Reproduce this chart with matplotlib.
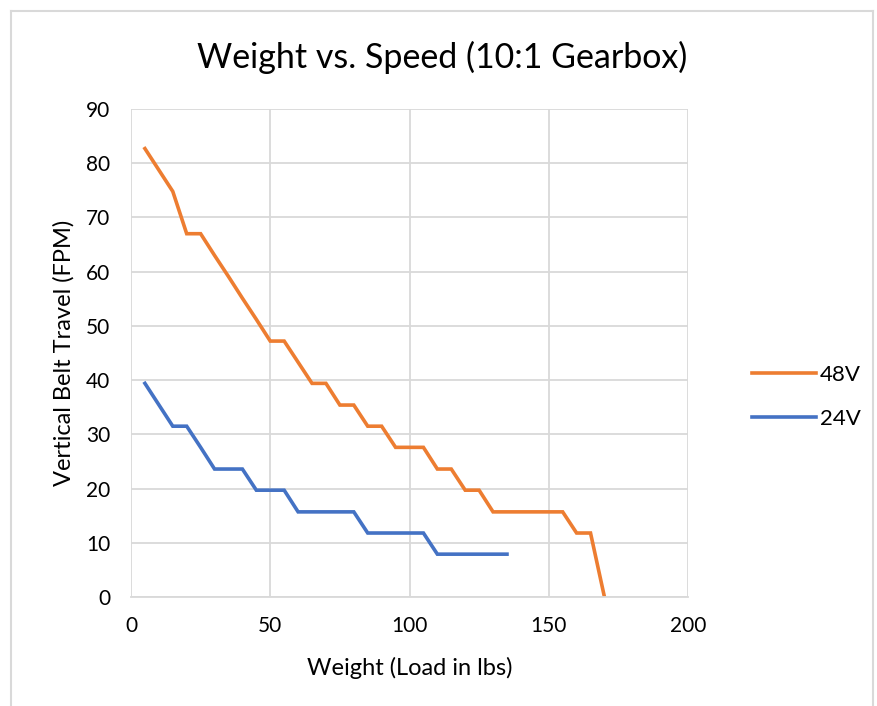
import matplotlib.pyplot as plt
from matplotlib.lines import Line2D

plt.rcParams['font.family'] = ['Lato', 'DejaVu Sans']

# 48V series (load in lbs, belt travel in FPM)
w48 = [5, 15, 20, 25, 30, 35, 40, 45, 50, 55, 60, 65, 70, 75, 80, 85, 90, 95, 100, 105,
       110, 115, 120, 125, 130, 135, 140, 145, 150, 155, 160, 165, 170]
v48 = [82.7, 74.8, 67.0, 67.0, 63.0, 59.1, 55.1, 51.2, 47.2, 47.2, 43.3, 39.4, 39.4, 35.4, 35.4,
       31.5, 31.5, 27.6, 27.6, 27.6, 23.6, 23.6, 19.7, 19.7, 15.7, 15.7, 15.7, 15.7, 15.7, 15.7,
       11.8, 11.8, 0.0]

# 24V series
w24 = [5, 15, 20, 25, 30, 35, 40, 45, 50, 55, 60, 65, 70, 75, 80, 85, 90, 95, 100, 105,
       110, 115, 120, 125, 130, 135]
v24 = [39.4, 31.5, 31.5, 27.6, 23.6, 23.6, 23.6, 19.7, 19.7, 19.7, 15.7, 15.7, 15.7, 15.7, 15.7,
       11.8, 11.8, 11.8, 11.8, 11.8, 7.9, 7.9, 7.9, 7.9, 7.9, 7.9]

fig = plt.figure(figsize=(8.77, 7.06), dpi=100)
ax = fig.add_axes([131 / 877, 109 / 706, 557 / 877, 488 / 706])

l48, = ax.plot(w48, v48, color='#ED7D31', lw=2.6, solid_joinstyle='miter', label='48V')
l24, = ax.plot(w24, v24, color='#4472C4', lw=2.6, solid_joinstyle='miter', label='24V')

ax.set_xlim(0, 200)
ax.set_ylim(0, 90)
ax.set_xticks(range(0, 201, 50))
ax.set_yticks(range(0, 91, 10))
ax.grid(True, color='#d9d9d9', lw=1.3)
ax.set_axisbelow(True)
for s in ['top', 'right', 'left']:
    ax.spines[s].set_visible(False)
ax.spines['bottom'].set_color('#d9d9d9')
ax.spines['bottom'].set_linewidth(1.3)
ax.tick_params(length=0, labelsize=15, colors='#000000')
ax.tick_params(axis='y', pad=15)
ax.tick_params(axis='x', pad=14)

ax.set_xlabel('Weight (Load in lbs)', fontsize=17, labelpad=15)
ax.set_ylabel('Vertical Belt Travel (FPM)', fontsize=17, labelpad=8)
fig.text(442 / 877, 1 - 57 / 706, 'Weight vs. Speed (10:1 Gearbox)', fontsize=24.5,
         ha='center', va='center')

ax.legend(handles=[l48, l24], loc='center left', bbox_to_anchor=(732 / 877, 1 - 397 / 706),
          bbox_transform=fig.transFigure, frameon=False, fontsize=16, handlelength=2.9,
          handletextpad=0.15, labelspacing=1.1)

# chart border
bc = '#d9d9d9'
fig.add_artist(Line2D([11 / 877, 11 / 877], [0, 1 - 11 / 706], color=bc, lw=1.5))
fig.add_artist(Line2D([11 / 877, 873 / 877], [1 - 11 / 706, 1 - 11 / 706], color=bc, lw=1.5))
fig.add_artist(Line2D([873 / 877, 873 / 877], [0, 1 - 11 / 706], color=bc, lw=1.5))

fig.savefig('out.png', dpi=100)
